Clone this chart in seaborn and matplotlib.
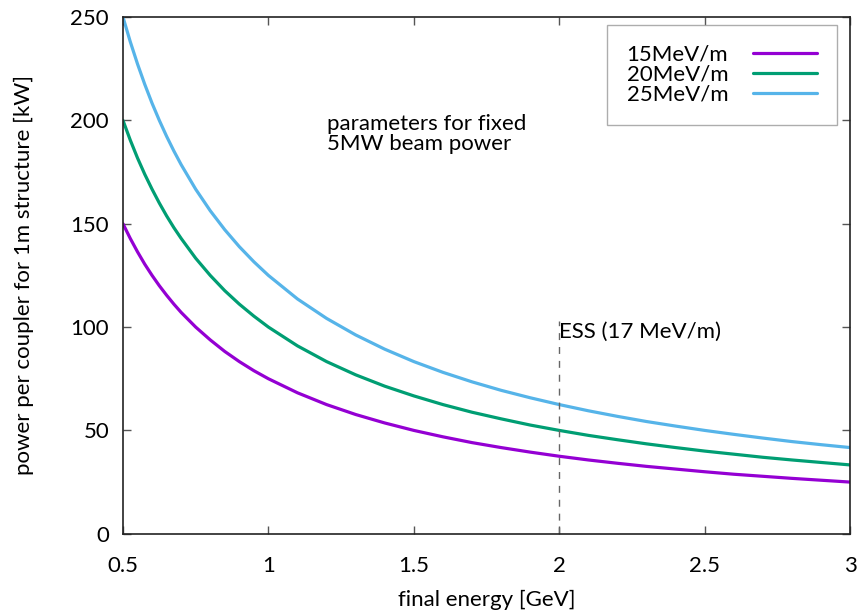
import pandas as pd
import matplotlib.pyplot as plt
import seaborn as sns

# final energy [GeV] and coupler power [kW]
energy = [0.5, 0.525, 0.55, 0.575, 0.6, 0.625, 0.65, 0.675, 0.7, 0.75, 0.8,
          0.85, 0.9, 0.95, 1.0, 1.1, 1.2, 1.3, 1.4, 1.5, 1.6, 1.7, 1.8, 1.9,
          2.0, 2.1, 2.2, 2.3, 2.4, 2.5, 2.6, 2.7, 2.8, 2.9, 3.0]
p15 = [150, 142.9, 136.4, 130.4, 125, 120, 115.4, 111.1, 107.1, 100, 93.8,
       88.2, 83.3, 78.9, 75, 68.2, 62.5, 57.7, 53.6, 50, 46.9, 44.1, 41.7, 39.5,
       37.5, 35.7, 34.1, 32.6, 31.3, 30, 28.8, 27.8, 26.8, 25.9, 25]
p20 = [200, 190.5, 181.8, 173.9, 166.7, 160, 153.8, 148.1, 142.9, 133.3, 125,
       117.6, 111.1, 105.3, 100, 90.9, 83.3, 76.9, 71.4, 66.7, 62.5, 58.8, 55.6, 52.6,
       50, 47.6, 45.5, 43.5, 41.7, 40, 38.5, 37, 35.7, 34.5, 33.3]
p25 = [250, 238.1, 227.3, 217.4, 208.3, 200, 192.3, 185.2, 178.6, 166.7, 156.3,
       147.1, 138.9, 131.6, 125, 113.6, 104.2, 96.2, 89.3, 83.3, 78.1, 73.5, 69.4, 65.8,
       62.5, 59.5, 56.8, 54.3, 52.1, 50, 48.1, 46.3, 44.6, 43.1, 41.7]
labels = ["15MeV/m", "20MeV/m", "25MeV/m"]
colors = ["#9400D3", "#009E73", "#56B4E9"]
ess_energy = 2.0
ess_top = 103

df = pd.concat([
    pd.DataFrame({"energy": energy, "power": p, "gradient": lab})
    for p, lab in zip([p15, p20, p25], labels)
])

sns.set_style("ticks")
plt.rcParams['font.family'] = ['Lato', 'DejaVu Sans']
plt.rcParams['text.color'] = 'black'
plt.rcParams['axes.labelcolor'] = 'black'

fig, ax = plt.subplots(figsize=(8.57, 6.1), dpi=100)
fig.subplots_adjust(left=0.1435, right=0.992, top=0.972, bottom=0.125)

sns.lineplot(data=df, x="energy", y="power", hue="gradient",
             palette=dict(zip(labels, colors)), linewidth=2.3, ax=ax)

ax.plot([ess_energy, ess_energy], [0, ess_top], color="#666666",
        linestyle=(0, (5, 5)), linewidth=1)
ax.text(ess_energy, 95, "ESS (17 MeV/m)", fontsize=16, ha="left", va="baseline")
ax.text(1.2, 185.5, "parameters for fixed\n5MW beam power", fontsize=16,
        ha="left", va="baseline", linespacing=1.0)

ax.set_xlim(0.5, 3)
ax.set_ylim(0, 250)
ax.set_xticks([0.5, 1, 1.5, 2, 2.5, 3])
ax.set_xticklabels(["0.5", "1", "1.5", "2", "2.5", "3"])
ax.set_yticks([0, 50, 100, 150, 200, 250])
ax.tick_params(direction="in", top=True, right=True, length=6, width=1,
               labelsize=16, color="#555555", labelcolor="black")
ax.tick_params(axis="x", pad=16)
ax.tick_params(axis="y", pad=10)
ax.set_xlabel("final energy [GeV]", fontsize=16, labelpad=10)
ax.set_ylabel("power per coupler for 1m structure [kW]", fontsize=16, labelpad=26)
for s in ax.spines.values():
    s.set_linewidth(1.2)
    s.set_color("#222222")

leg = ax.legend(loc="upper right", bbox_to_anchor=(0.982, 0.985), fontsize=16,
                markerfirst=False, handlelength=2.9, frameon=True, fancybox=False,
                borderpad=0.9, labelspacing=0.0, handletextpad=1.1,
                borderaxespad=0)
leg.get_frame().set_edgecolor("#999999")
leg.get_frame().set_linewidth(1)
for t in leg.get_texts():
    t.set_ha("right")

fig.savefig("out.png", dpi=100)
